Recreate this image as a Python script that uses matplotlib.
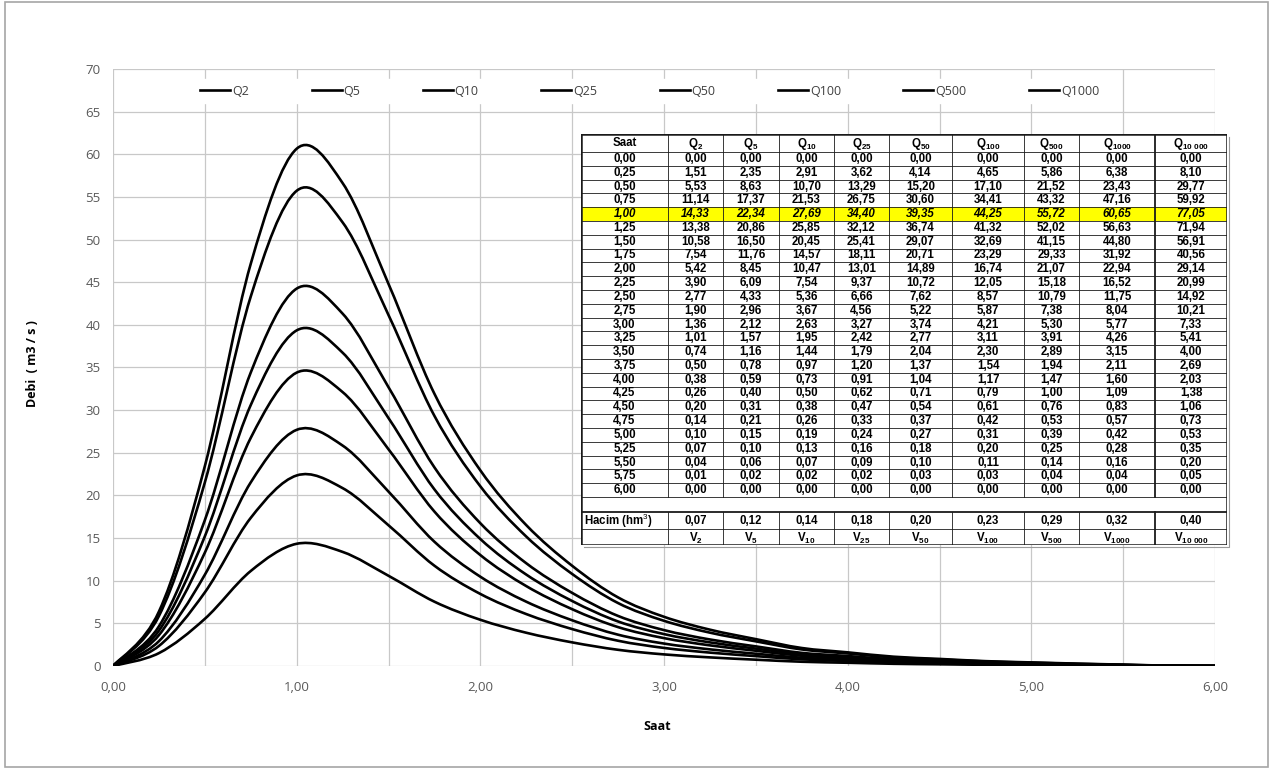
import matplotlib.pyplot as plt
import numpy as np
from matplotlib.path import Path
from matplotlib.patches import PathPatch, Rectangle
from matplotlib.lines import Line2D

plt.rcParams['mathtext.fontset'] = 'custom'
plt.rcParams['mathtext.rm'] = 'Liberation Sans'
plt.rcParams['mathtext.bf'] = 'Liberation Sans:bold'

# Hidrograf verileri (Saat, debi m3/s)
saat = [0.00, 0.25, 0.50, 0.75, 1.00, 1.25, 1.50, 1.75, 2.00, 2.25, 2.50, 2.75, 3.00,
        3.25, 3.50, 3.75, 4.00, 4.25, 4.50, 4.75, 5.00, 5.25, 5.50, 5.75, 6.00]
q2 = [0.00, 1.51, 5.53, 11.14, 14.33, 13.38, 10.58, 7.54, 5.42, 3.90, 2.77, 1.90, 1.36,
      1.01, 0.74, 0.50, 0.38, 0.26, 0.20, 0.14, 0.10, 0.07, 0.04, 0.01, 0.00]
q5 = [0.00, 2.35, 8.63, 17.37, 22.34, 20.86, 16.50, 11.76, 8.45, 6.09, 4.33, 2.96, 2.12,
      1.57, 1.16, 0.78, 0.59, 0.40, 0.31, 0.21, 0.15, 0.10, 0.06, 0.02, 0.00]
q10 = [0.00, 2.91, 10.70, 21.53, 27.69, 25.85, 20.45, 14.57, 10.47, 7.54, 5.36, 3.67, 2.63,
       1.95, 1.44, 0.97, 0.73, 0.50, 0.38, 0.26, 0.19, 0.13, 0.07, 0.02, 0.00]
q25 = [0.00, 3.62, 13.29, 26.75, 34.40, 32.12, 25.41, 18.11, 13.01, 9.37, 6.66, 4.56, 3.27,
       2.42, 1.79, 1.20, 0.91, 0.62, 0.47, 0.33, 0.24, 0.16, 0.09, 0.02, 0.00]
q50 = [0.00, 4.14, 15.20, 30.60, 39.35, 36.74, 29.07, 20.71, 14.89, 10.72, 7.62, 5.22, 3.74,
       2.77, 2.04, 1.37, 1.04, 0.71, 0.54, 0.37, 0.27, 0.18, 0.10, 0.03, 0.00]
q100 = [0.00, 4.65, 17.10, 34.41, 44.25, 41.32, 32.69, 23.29, 16.74, 12.05, 8.57, 5.87, 4.21,
        3.11, 2.30, 1.54, 1.17, 0.79, 0.61, 0.42, 0.31, 0.20, 0.11, 0.03, 0.00]
q500 = [0.00, 5.86, 21.52, 43.32, 55.72, 52.02, 41.15, 29.33, 21.07, 15.18, 10.79, 7.38, 5.30,
        3.91, 2.89, 1.94, 1.47, 1.00, 0.76, 0.53, 0.39, 0.25, 0.14, 0.04, 0.00]
q1000 = [0.00, 6.38, 23.43, 47.16, 60.65, 56.63, 44.80, 31.92, 22.94, 16.52, 11.75, 8.04, 5.77,
         4.26, 3.15, 2.11, 1.60, 1.09, 0.83, 0.57, 0.42, 0.28, 0.16, 0.04, 0.00]
q10000 = [0.00, 8.10, 29.77, 59.92, 77.05, 71.94, 56.91, 40.56, 29.14, 20.99, 14.92, 10.21, 7.33,
          5.41, 4.00, 2.69, 2.03, 1.38, 1.06, 0.73, 0.53, 0.35, 0.20, 0.05, 0.00]
hacim = [0.07, 0.12, 0.14, 0.18, 0.20, 0.23, 0.29, 0.32, 0.40]

plot_names = ['Q2', 'Q5', 'Q10', 'Q25', 'Q50', 'Q100', 'Q500', 'Q1000']
plot_series = [q2, q5, q10, q25, q50, q100, q500, q1000]

table_cols = [q2, q5, q10, q25, q50, q100, q500, q1000, q10000]
table_heads = ['2', '5', '10', '25', '50', '100', '500', '1000', '10\\ 000']


def fmt(v):
    return f"{v:.2f}".replace('.', ',')


def smooth_path(x, y):
    # excel tarzi yumusatilmis cizgi (bezier)
    p = np.column_stack([x, y]).astype(float)
    n = len(p)
    verts = [p[0]]
    codes = [Path.MOVETO]
    for i in range(n - 1):
        pm = p[i - 1] if i > 0 else p[i]
        pp = p[i + 2] if i + 2 < n else p[i + 1]
        c1 = p[i] + (p[i + 1] - pm) / 6.0
        c2 = p[i + 1] - (pp - p[i]) / 6.0
        verts += [c1, c2, p[i + 1]]
        codes += [Path.CURVE4] * 3
    return Path(verts, codes)


W, H = 1272, 769
fig = plt.figure(figsize=(W / 100, H / 100), dpi=100)

# dis cerceve
fig.patches.append(Rectangle((5 / W, 2 / H), 1263 / W, 765 / H, transform=fig.transFigure,
                             fill=False, edgecolor='#a6a6a6', linewidth=1.2))

ax = fig.add_axes([113 / W, (H - 666) / H, 1102 / W, 597 / H])
ax.set_xlim(0, 6)
ax.set_ylim(0, 70)
ax.set_xticks(np.arange(0, 6.01, 1.0))
ax.set_xticks(np.arange(0, 6.01, 0.5), minor=True)
ax.set_yticks(np.arange(0, 71, 5))
ax.set_xticklabels([fmt(v) for v in np.arange(0, 6.01, 1.0)])
ax.grid(True, which='both', color='#c8c8c8', linewidth=0.9)
ax.set_axisbelow(True)
for s in ax.spines.values():
    s.set_visible(False)
ax.tick_params(which='both', length=0, labelsize=9.5, labelcolor='#595959')
ax.tick_params(axis='x', pad=11)
ax.tick_params(axis='y', pad=9)
for lbl in ax.get_xticklabels() + ax.get_yticklabels():
    lbl.set_fontfamily('Open Sans')

handles = []
for name, q in zip(plot_names, plot_series):
    ax.add_patch(PathPatch(smooth_path(saat, q), fill=False, edgecolor='black',
                           linewidth=1.9, zorder=3, capstyle='round', joinstyle='round'))
    handles.append(Line2D([], [], color='black', linewidth=1.9, label=name))

leg = ax.legend(handles=handles, loc='center', bbox_to_anchor=(0.487, 0.963), ncol=8,
                frameon=True, fancybox=False, framealpha=1, edgecolor='white',
                handlelength=2.4, handletextpad=0.15, columnspacing=5.0,
                borderpad=0.45, prop={'family': 'Open Sans', 'size': 9})
for t in leg.get_texts():
    t.set_color('#404040')

fig.text(33 / W, 1 - 364 / H, 'Debi  ( m3 / s )', rotation=90, ha='center', va='center',
         fontsize=9, fontweight='bold', family='Open Sans')
fig.text(657 / W, 1 - 727 / H, 'Saat', ha='center', va='center',
         fontsize=9, fontweight='bold', family='Open Sans')

# tablo
tx0, tx1, ty0, ty1 = 581, 1227, 134, 545
tax = fig.add_axes([tx0 / W, (H - ty1) / H, (tx1 - tx0) / W, (ty1 - ty0) / H])
tax.set_xlim(tx0, tx1)
tax.set_ylim(ty1, ty0)
tax.axis('off')
tax.add_patch(Rectangle((tx0, ty0), tx1 - tx0, ty1 - ty0, facecolor='white', edgecolor='none'))

col_edges = [581, 668, 723, 779, 834, 889, 952, 1024, 1079, 1155, 1227]
head_bot = 152
row_h = (497 - head_bot) / len(saat)
row_edges = [head_bot + i * row_h for i in range(len(saat) + 1)]
hacim_top, v_top = 512, 529

# sari satir
hi = saat.index(1.00)
tax.add_patch(Rectangle((tx0, row_edges[hi]), tx1 - tx0, row_h, facecolor='#ffff00',
                        edgecolor='none'))

lc = '#1a1a1a'
for y in [head_bot] + row_edges[1:] + [v_top]:
    tax.plot([tx0, tx1], [y, y], color=lc, linewidth=0.6)
tax.plot([tx0, tx1], [hacim_top, hacim_top], color=lc, linewidth=1.3)
for i, x in enumerate(col_edges[1:-1]):
    lw = 1.3 if i == 8 else 0.6
    tax.plot([x, x], [ty0, row_edges[-1]], color=lc, linewidth=lw)
    tax.plot([x, x], [hacim_top, ty1], color=lc, linewidth=lw)
tax.add_patch(Rectangle((tx0, ty0), tx1 - tx0, ty1 - ty0, fill=False, edgecolor=lc,
                        linewidth=1.8))
tax.plot([tx0 + 3, tx1 + 2, tx1 + 2], [ty1 + 2, ty1 + 2, ty0 + 3], color='#9a9a9a',
         linewidth=0.8, clip_on=False)

cx = [(col_edges[i] + col_edges[i + 1]) / 2 for i in range(len(col_edges) - 1)]
fs = 8.3
tax.text(cx[0], (ty0 + head_bot) / 2, 'Saat', ha='center', va='center', fontsize=fs,
         fontweight='bold', family='Liberation Sans')
for j, h in enumerate(table_heads):
    tax.text(cx[j + 1], (ty0 + head_bot) / 2 + 1, r'$\mathbf{Q_{' + h + '}}$', ha='center',
             va='center', fontsize=fs)
for i, t in enumerate(saat):
    yc = row_edges[i] + row_h / 2
    style = 'italic' if i == hi else 'normal'
    tax.text(cx[0], yc, fmt(t), ha='center', va='center', fontsize=fs, fontweight='bold',
             fontstyle=style, family='Liberation Sans')
    for j, col in enumerate(table_cols):
        tax.text(cx[j + 1], yc, fmt(col[i]), ha='center', va='center', fontsize=fs,
                 fontweight='bold', fontstyle=style, family='Liberation Sans')

yc = (hacim_top + v_top) / 2
tax.text(tx0 + 3, yc, r'Hacim (hm$^{3}$)', ha='left', va='center', fontsize=fs,
         fontweight='bold', family='Liberation Sans')
for j, v in enumerate(hacim):
    tax.text(cx[j + 1], yc, fmt(v), ha='center', va='center', fontsize=fs,
             fontweight='bold', family='Liberation Sans')
    tax.text(cx[j + 1], (v_top + ty1) / 2 + 1, r'$\mathbf{V_{' + table_heads[j] + '}}$',
             ha='center', va='center', fontsize=fs)

fig.savefig('out.png', dpi=100)
